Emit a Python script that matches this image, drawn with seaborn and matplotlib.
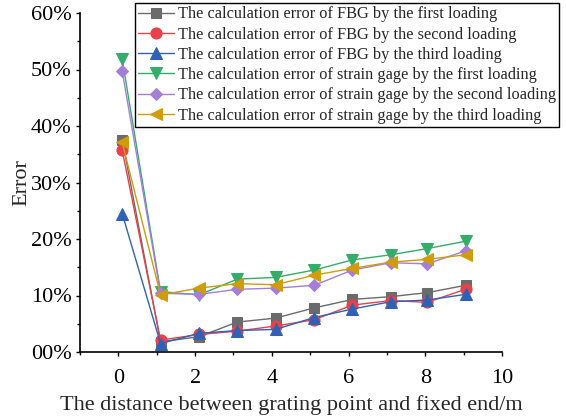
import matplotlib
matplotlib.use("Agg")
import matplotlib.pyplot as plt
import seaborn as sns
import numpy as np
from matplotlib.ticker import MultipleLocator

sns.set_theme(style="ticks")
plt.rcParams['font.family'] = ['Liberation Serif', 'DejaVu Serif']

distance = [0.1, 1.1, 2.1, 3.1, 4.1, 5.1, 6.1, 7.1, 8.05, 9.05]

fbg_first = [37.6, 1.8, 2.7, 5.3, 6.0, 7.8, 9.3, 9.8, 10.5, 11.8]
fbg_second = [35.7, 2.1, 3.1, 3.7, 4.6, 5.7, 8.3, 9.1, 8.8, 11.1]
fbg_third = [24.5, 1.5, 3.3, 3.8, 4.0, 6.1, 7.6, 8.9, 9.2, 10.2]
gage_first = [51.8, 10.7, 10.1, 12.9, 13.2, 14.5, 16.3, 17.2, 18.3, 19.6]
gage_second = [49.7, 10.4, 10.2, 11.1, 11.3, 11.8, 14.5, 15.8, 15.6, 17.9]
gage_third = [37.1, 10.1, 11.3, 12.1, 11.9, 13.6, 14.8, 15.9, 16.4, 17.2]

labels = [
    "The calculation error of FBG by the first loading",
    "The calculation error of FBG by the second loading",
    "The calculation error of FBG by the third loading",
    "The calculation error of strain gage by the first loading",
    "The calculation error of strain gage by the second loading",
    "The calculation error of strain gage by the third loading",
]
series = [fbg_first, fbg_second, fbg_third, gage_first, gage_second, gage_third]
colors = ["#6b6b6b", "#e8414a", "#2f62b5", "#35ad6a", "#a57ed6", "#d09c0a"]
markers = ["s", "o", "^", "v", "D", "<"]
msizes = [7, 8, 8, 8, 6.5, 8.5]

yticks = [0, 10, 20, 30, 40, 50, 60]
ytick_labels = ["00%", "10%", "20%", "30%", "40%", "50%", "60%"]
xticks = [0, 2, 4, 6, 8, 10]

fig = plt.figure(figsize=(5.66, 4.16), dpi=100)
ax = fig.add_axes([80/566, 1-352/416, (502-80)/566, (352-13)/416])

for vals, lab, c, m, ms in zip(series, labels, colors, markers, msizes):
    sns.lineplot(x=distance, y=vals, ax=ax, color=c, marker=m, markersize=ms,
                 markeredgecolor=c, linewidth=1.0, label=lab)

ax.set_xlim(-1, 10)
ax.set_ylim(0, 60)
ax.set_xticks(xticks)
ax.xaxis.set_minor_locator(MultipleLocator(1))
ax.set_yticks(yticks)
ax.set_yticklabels(ytick_labels)
ax.yaxis.set_minor_locator(MultipleLocator(5))
ax.tick_params(axis='both', which='major', direction='out', length=3, width=1,
               labelsize=16, colors='black')
ax.tick_params(axis='x', which='major', pad=9)
ax.tick_params(axis='y', which='major', pad=3)
ax.tick_params(axis='both', which='minor', direction='out', length=2.5, width=1, colors='black')
for s in ['top', 'right']:
    ax.spines[s].set_visible(False)
for s in ['left', 'bottom']:
    ax.spines[s].set_color('black')
    ax.spines[s].set_linewidth(1.2)

ax.set_xlabel("The distance between grating point and fixed end/m", fontsize=16, labelpad=5)
ax.set_ylabel("Error", fontsize=16, labelpad=0)

leg = ax.legend(loc='upper right', bbox_to_anchor=(559/566, 1-3/416),
                bbox_transform=fig.transFigure, fontsize=11.8, frameon=True,
                fancybox=False, edgecolor='black', framealpha=1,
                borderpad=0.2, labelspacing=0.26, handlelength=2.2,
                handletextpad=0.2, borderaxespad=0, handleheight=0.7)
leg.get_frame().set_linewidth(1.0)
leg._legend_box.sep = 0

fig.savefig("out.png", dpi=100)
